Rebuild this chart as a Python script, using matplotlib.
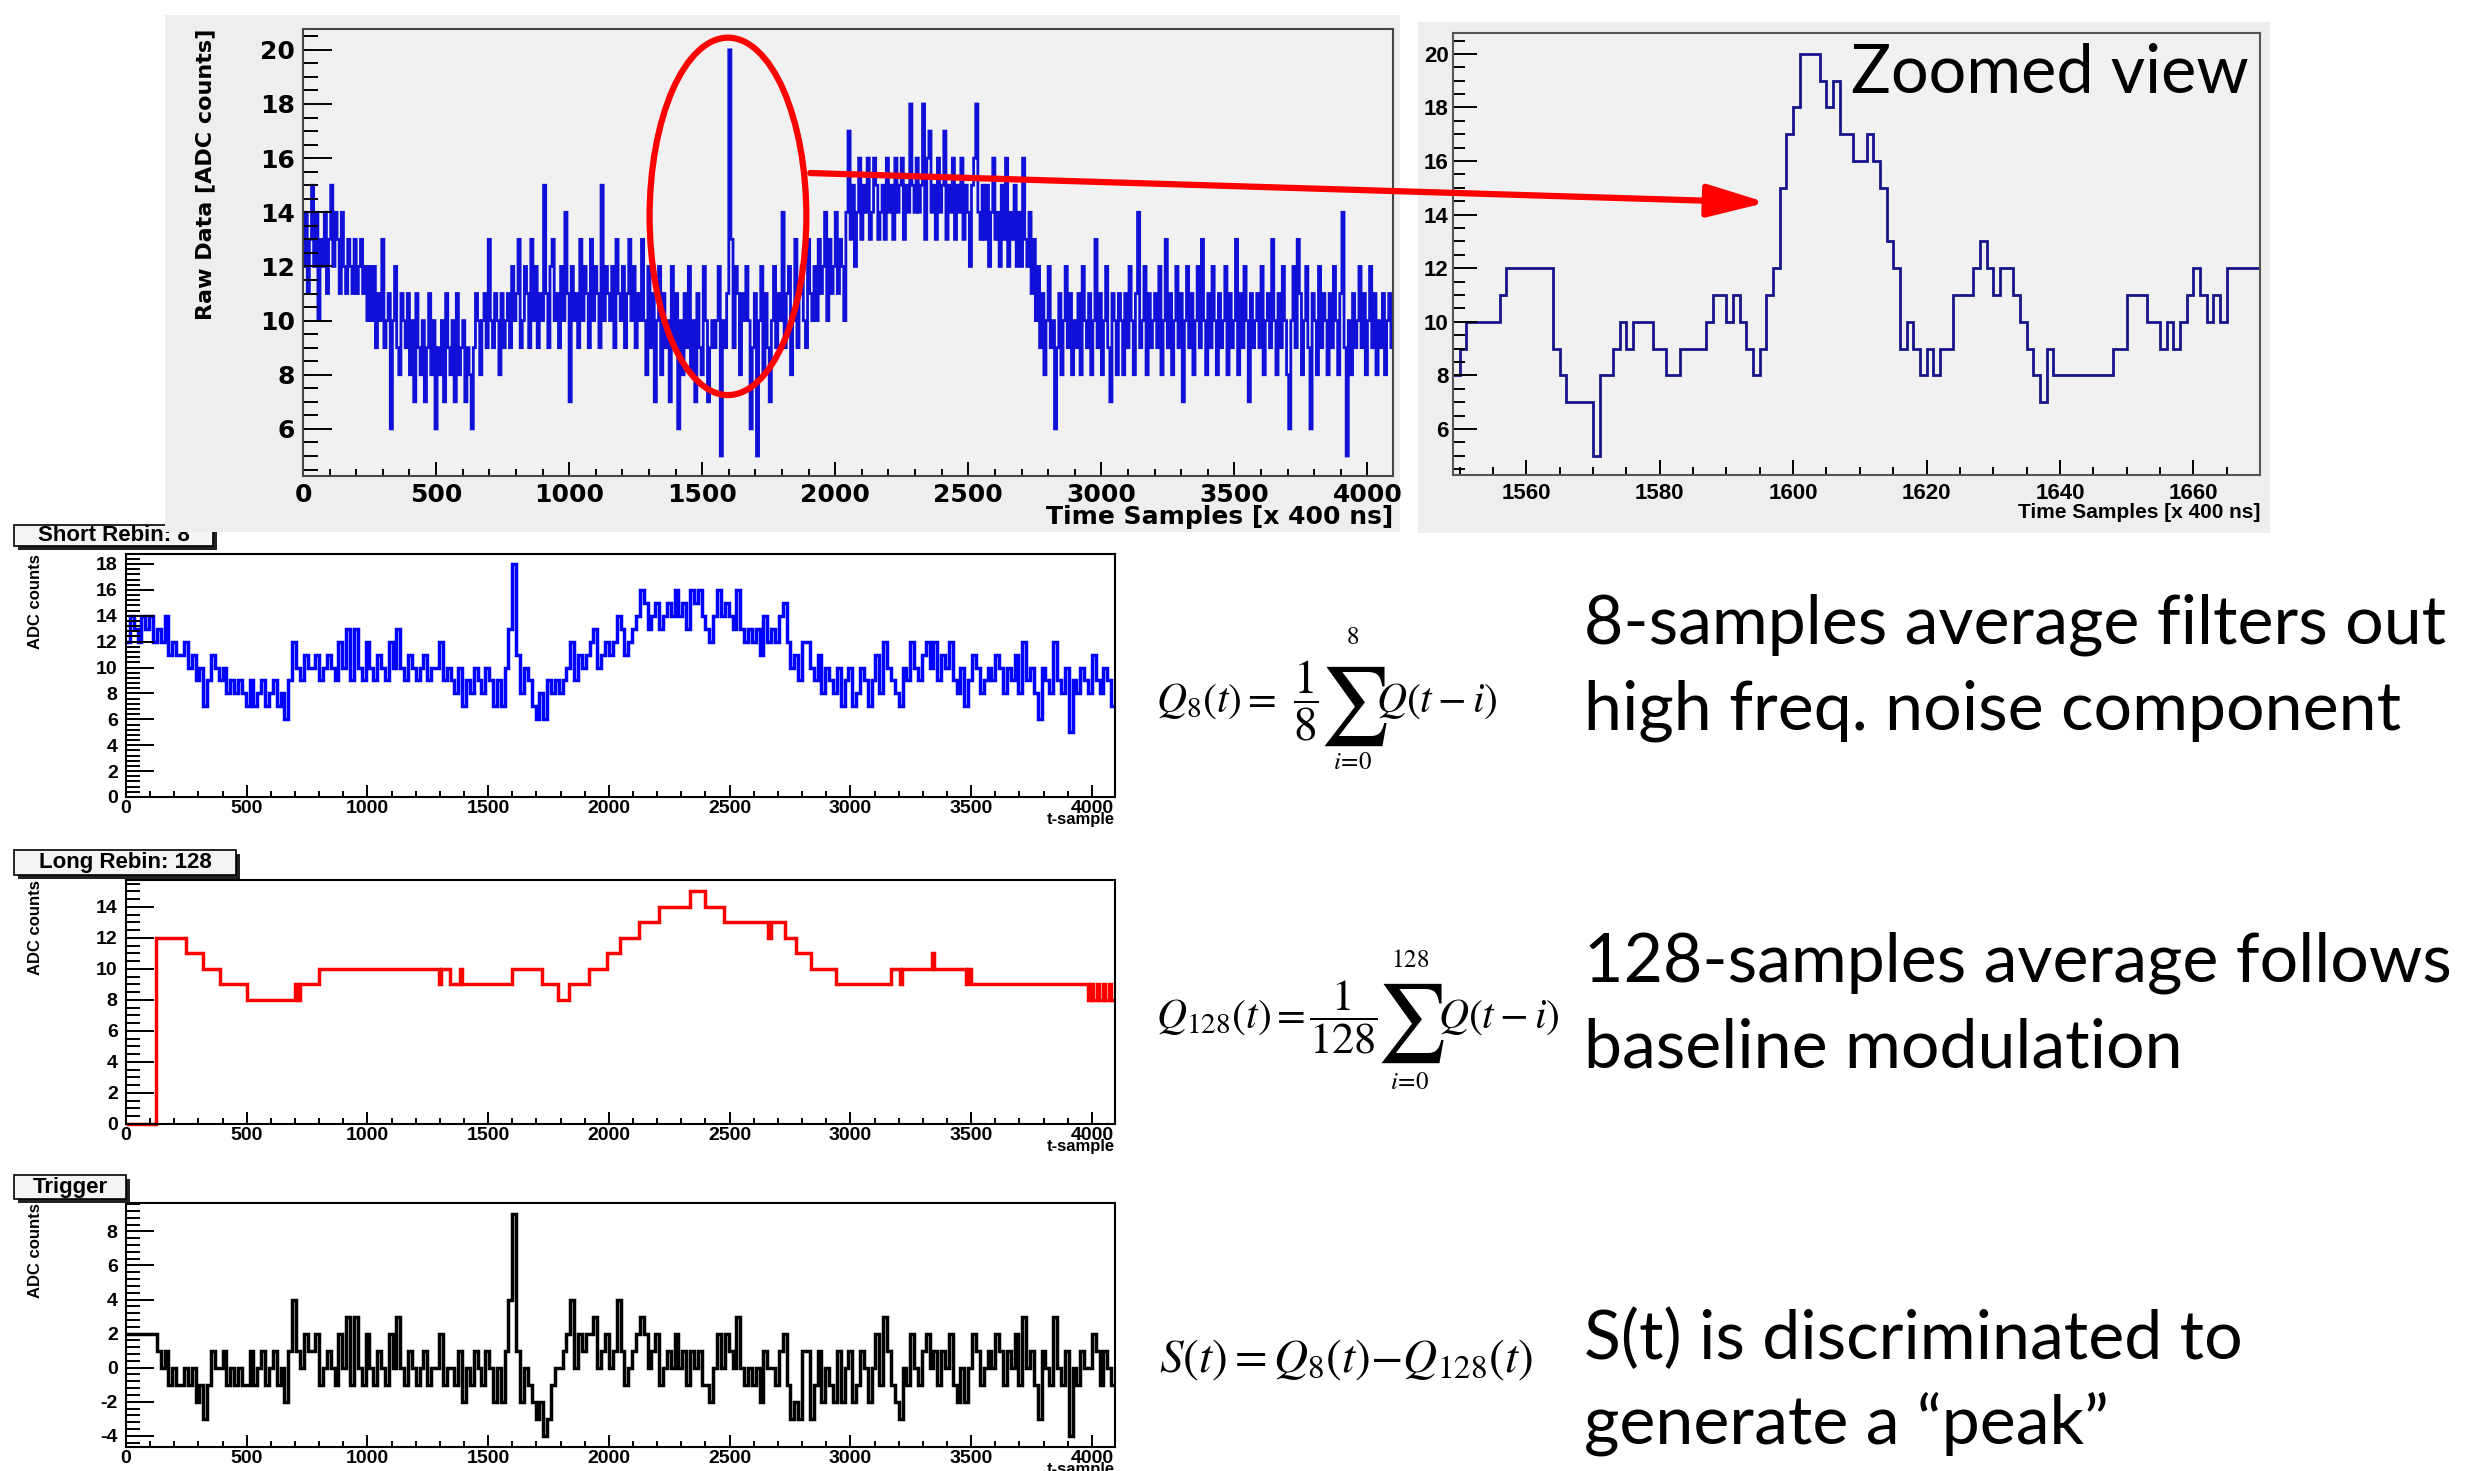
import numpy as np
import matplotlib.pyplot as plt
from matplotlib.patches import Ellipse, Rectangle, ConnectionPatch
from matplotlib.ticker import MultipleLocator

plt.rcParams['font.family'] = 'Liberation Sans'
plt.rcParams['mathtext.fontset'] = 'stix'
plt.rcParams['axes.unicode_minus'] = False

# raw ADC trace, one entry per 8 time samples (0..4095)
raw_counts = [
    12, 14, 11, 13, 15, 12, 14, 10, 13, 12, 14, 11, 13, 15, 12, 14,
    13, 11, 14, 12, 11, 13, 12, 11, 13, 11, 12, 13, 11, 12, 10, 12,
    10, 12, 9, 11, 10, 13, 9, 10, 11, 6, 10, 12, 9, 8, 11, 10,
    9, 11, 8, 10, 7, 11, 9, 8, 10, 7, 9, 11, 8, 10, 6, 9,
    8, 10, 7, 11, 9, 8, 10, 7, 11, 8, 9, 10, 7, 9, 8, 6,
    9, 11, 10, 8, 10, 11, 9, 13, 10, 9, 11, 10, 8, 11, 9, 10,
    11, 9, 12, 10, 11, 13, 9, 10, 12, 11, 9, 13, 10, 12, 9, 11,
    10, 15, 11, 9, 12, 13, 10, 11, 9, 12, 10, 14, 11, 7, 12, 10,
    11, 9, 13, 10, 12, 11, 9, 13, 10, 12, 11, 9, 15, 10, 12, 11,
    10, 12, 9, 13, 11, 10, 12, 9, 11, 13, 10, 12, 9, 11, 10, 13,
    10, 8, 12, 9, 11, 7, 10, 12, 8, 11, 9, 10, 7, 12, 9, 11,
    6, 10, 8, 11, 9, 12, 8, 10, 7, 11, 9, 8, 12, 10, 7, 9,
    10, 9, 10, 12, 5, 10, 9, 11, 20, 13, 9, 12, 11, 8, 11, 10,
    12, 10, 6, 9, 11, 5, 10, 12, 8, 11, 9, 7, 10, 12, 9, 11,
    10, 14, 9, 11, 12, 8, 10, 13, 9, 11, 12, 10, 9, 13, 11, 10,
    12, 10, 13, 11, 12, 14, 10, 13, 11, 12, 14, 11, 13, 12, 10, 14,
    17, 13, 15, 12, 14, 16, 13, 15, 14, 16, 13, 14, 16, 15, 13, 14,
    15, 13, 16, 14, 15, 13, 16, 14, 15, 16, 13, 15, 14, 18, 15, 14,
    16, 14, 15, 18, 13, 16, 17, 14, 15, 13, 16, 14, 15, 17, 13, 15,
    14, 16, 13, 15, 14, 16, 13, 15, 14, 12, 15, 16, 18, 14, 13, 15,
    13, 15, 12, 14, 16, 13, 14, 12, 15, 13, 16, 12, 14, 13, 15, 12,
    14, 12, 16, 13, 12, 14, 11, 13, 10, 12, 9, 11, 8, 10, 12, 9,
    10, 6, 9, 11, 8, 10, 12, 9, 11, 8, 10, 9, 11, 8, 12, 10,
    9, 11, 8, 10, 13, 9, 11, 8, 10, 12, 9, 7, 11, 10, 8, 11,
    10, 8, 11, 9, 12, 10, 8, 11, 14, 9, 10, 12, 8, 11, 9, 10,
    11, 9, 12, 8, 10, 13, 9, 11, 8, 10, 12, 9, 11, 7, 10, 12,
    9, 11, 8, 10, 12, 9, 13, 10, 8, 11, 9, 12, 10, 8, 11, 9,
    10, 12, 8, 11, 9, 10, 13, 8, 11, 9, 12, 10, 7, 11, 9, 10,
    11, 9, 12, 8, 10, 11, 9, 13, 10, 8, 11, 9, 12, 10, 8, 6,
    10, 12, 9, 13, 11, 8, 10, 12, 9, 6, 11, 10, 8, 12, 9, 11,
    10, 8, 11, 9, 12, 10, 8, 11, 14, 9, 5, 10, 8, 11, 9, 10,
    12, 9, 11, 8, 10, 12, 9, 11, 8, 10, 9, 11, 8, 10, 11, 9,
]

# zoomed raw trace, one entry per sample, starting at sample 1549
zoom_start = 1549
zoom_counts = [
    8, 9, 10, 10, 10, 10, 10, 11, 12, 12, 12, 12, 12, 12, 12, 9,
    8, 7, 7, 7, 7, 5, 8, 8, 9, 10, 9, 10, 10, 10, 9, 9,
    8, 8, 9, 9, 9, 9, 10, 11, 11, 10, 11, 10, 9, 8, 9, 11,
    12, 15, 17, 18, 20, 20, 20, 19, 18, 19, 17, 17, 16, 16, 17, 16,
    15, 13, 12, 9, 10, 9, 8, 9, 8, 9, 9, 11, 11, 11, 12, 13,
    12, 11, 12, 12, 11, 10, 9, 8, 7, 9, 8, 8, 8, 8, 8, 8,
    8, 8, 8, 9, 9, 11, 11, 11, 10, 10, 9, 10, 9, 10, 11, 12,
    11, 10, 11, 10, 12, 12, 12, 12, 12,
]

# 8-sample average, one entry per 16 samples
q8_counts = [
    12, 14, 13, 12, 14, 13, 14, 12, 13, 12, 14, 11, 12, 11, 11, 12,
    10, 11, 9, 10, 7, 9, 11, 10, 9, 10, 8, 9, 8, 9, 8, 7,
    9, 7, 8, 9, 7, 8, 9, 7, 8, 6, 9, 12, 10, 9, 11, 10,
    10, 11, 9, 10, 11, 10, 9, 12, 10, 13, 9, 13, 10, 9, 12, 10,
    9, 11, 10, 9, 12, 10, 13, 10, 9, 11, 10, 9, 10, 11, 9, 10,
    10, 12, 9, 10, 9, 8, 10, 7, 9, 8, 10, 9, 8, 10, 9, 7,
    9, 7, 10, 13, 18, 11, 8, 10, 9, 7, 6, 8, 6, 9, 8, 9,
    8, 9, 10, 12, 9, 11, 10, 11, 12, 13, 10, 11, 12, 11, 12, 14,
    13, 11, 12, 13, 14, 16, 15, 13, 14, 15, 13, 14, 15, 14, 16, 14,
    15, 13, 16, 15, 16, 14, 13, 12, 14, 16, 14, 15, 14, 13, 16, 13,
    12, 13, 12, 13, 11, 14, 12, 13, 12, 14, 15, 12, 10, 11, 9, 12,
    12, 10, 9, 11, 8, 10, 9, 8, 10, 7, 9, 10, 7, 8, 10, 9,
    7, 9, 11, 8, 12, 10, 9, 8, 7, 10, 9, 12, 10, 9, 11, 12,
    10, 12, 9, 11, 10, 12, 9, 8, 10, 7, 9, 11, 10, 8, 9, 10,
    9, 11, 10, 8, 10, 9, 11, 8, 12, 9, 10, 8, 6, 10, 9, 8,
    12, 9, 8, 10, 5, 9, 8, 10, 9, 8, 11, 9, 8, 10, 9, 7,
]

# 128-sample average: step edges (samples) and levels
q128_edges = [0, 125, 250, 320, 390, 500, 700, 712, 720, 800, 1296, 1304, 1340,
              1384, 1392, 1597, 1722, 1791, 1836, 1919, 1994, 2045, 2125, 2209,
              2337, 2397, 2478, 2660, 2672, 2731, 2776, 2836, 2940, 3170, 3205,
              3213, 3340, 3346, 3478, 3488, 3500, 3985, 3995, 4005, 4020, 4030,
              4045, 4055, 4070, 4080, 4096]
q128_counts = [0, 12, 11, 10, 9, 8, 9, 8, 9, 10, 9, 10, 9, 10, 9, 10, 9, 8, 9, 10,
               11, 12, 13, 14, 15, 14, 13, 12, 13, 12, 11, 10, 9, 10, 9, 10, 11,
               10, 9, 10, 9, 8, 9, 8, 9, 8, 9, 8, 9, 8]

# trigger S = Q8 - Q128, one entry per 16 samples
trigger_counts = [
    2, 2, 2, 2, 2, 2, 2, 2, 1, 0, 1, -1, 0, -1, -1, 0,
    -1, 0, -2, -1, -3, -1, 1, 0, 0, 1, -1, 0, -1, 0, -1, -1,
    1, -1, 0, 1, -1, 0, 1, -1, 0, -2, 1, 4, 1, 0, 2, 1,
    1, 2, -1, 0, 1, 0, -1, 2, 0, 3, -1, 3, 0, -1, 2, 0,
    -1, 1, 0, -1, 2, 0, 3, 0, -1, 1, 0, -1, 0, 1, -1, 0,
    0, 2, -1, 0, 0, -1, 1, -2, 0, -1, 1, 0, -1, 1, 0, -2,
    0, -2, 1, 4, 9, 1, -2, 0, -1, -2, -3, -2, -4, -3, -1, 0,
    0, 1, 2, 4, 0, 2, 1, 2, 2, 3, 0, 1, 2, 0, 1, 4,
    1, -1, 0, 1, 2, 3, 2, 0, 1, 2, -1, 0, 1, 0, 2, 0,
    1, -1, 1, 0, 1, -1, -1, -2, 0, 2, 0, 2, 1, 0, 3, 0,
    -1, 0, -1, 0, -2, 1, 0, 0, -1, 1, 2, -1, -3, -2, -3, 1,
    1, -3, -1, 1, -2, 0, -1, -2, 1, -2, 0, 1, -2, -1, 1, 0,
    -2, 0, 2, -1, 3, 1, -1, -2, -3, 0, -1, 2, 0, -1, 1, 2,
    0, 1, -1, 1, 0, 2, -1, -2, 0, -2, 0, 2, 1, -1, 0, 1,
    0, 2, 1, -1, 1, 0, 2, -1, 3, 0, 1, -1, -3, 1, 0, -1,
    3, 0, -1, 1, -4, 0, -1, 1, 0, 0, 2, 1, -1, 1, 0, -1,
]

W, H = 2472, 1471
fig = plt.figure(figsize=(W / 100, H / 100), dpi=100)


def frac(x0, y0, x1, y1):
    # pixel box (origin top-left) -> figure fraction rect
    return [x0 / W, 1 - y1 / H, (x1 - x0) / W, (y1 - y0) / H]


def fig_rect(x0, y0, x1, y1, **kw):
    r = frac(x0, y0, x1, y1)
    fig.add_artist(Rectangle((r[0], r[1]), r[2], r[3], transform=fig.transFigure, **kw))


def put(x, y, s, size, ha='left', va='center', **kw):
    fig.text(x / W, 1 - y / H, s, fontsize=size, ha=ha, va=va, **kw)


def title_box(x0, y0, x1, y1, text):
    fig_rect(x0 + 4, y0 + 4, x1 + 4, y1 + 4, fc='#222222', ec='none', zorder=0.5)
    fig_rect(x0, y0, x1, y1, fc='#f4f4f4', ec='black', lw=1.2, zorder=0.6)
    put((x0 + x1) / 2, (y0 + y1) / 2, text, 16, ha='center', fontweight='bold', zorder=0.7)


def root_style(ax, xmaj, xmin, ymaj, ymin, font, size, ylen, xlen, ypad, xpad, frame):
    ax.xaxis.set_major_locator(MultipleLocator(xmaj))
    ax.xaxis.set_minor_locator(MultipleLocator(xmin))
    ax.yaxis.set_major_locator(MultipleLocator(ymaj))
    ax.yaxis.set_minor_locator(MultipleLocator(ymin))
    ax.tick_params(which='both', direction='in', top=False, right=False, width=1.4,
                   labelsize=size, labelfontfamily=font)
    ax.tick_params(axis='y', which='major', length=ylen, pad=ypad)
    ax.tick_params(axis='y', which='minor', length=ylen / 2)
    ax.tick_params(axis='x', which='major', length=xlen, pad=xpad)
    ax.tick_params(axis='x', which='minor', length=xlen / 2)
    for lab in ax.get_xticklabels() + ax.get_yticklabels():
        lab.set_fontweight('bold')
    for sp in ax.spines.values():
        sp.set_color(frame)
        sp.set_linewidth(1.5)


# grey canvases of the two upper pads
fig_rect(165, 15, 1400, 532, fc='#eeeeee', ec='none', zorder=1)
fig_rect(1418, 22, 2270, 533, fc='#eeeeee', ec='none', zorder=1)

# --- raw data pad ---
ax_raw = fig.add_axes(frac(303, 29, 1393, 476))
ax_raw.set_zorder(2)
ax_raw.set_facecolor('#f1f1f1')
ax_raw.stairs(raw_counts, np.arange(0, 4097, 8), baseline=None, color='#1010d8', lw=2.0)
ax_raw.set_xlim(0, 4096)
ax_raw.set_ylim(4.26, 20.77)
root_style(ax_raw, 500, 100, 2, 0.5, 'DejaVu Sans', 18, 21, 10, 6, 5, '#444444')
ax_raw.set_ylabel('Raw Data [ADC counts]', loc='top', fontsize=16, family='DejaVu Sans',
                  fontweight='bold')
ax_raw.yaxis.set_label_coords(-0.080, 1.0)
ax_raw.set_xlabel('Time Samples [x 400 ns]', loc='right', fontsize=18, family='DejaVu Sans',
                  fontweight='bold')
ax_raw.xaxis.set_label_coords(1.0, -0.065)
ax_raw.add_patch(Ellipse((1597, 13.85), 589, 13.2, fill=False, ec='#ff0000', lw=4.5,
                         zorder=5, clip_on=False))

# --- zoomed pad ---
ax_zoom = fig.add_axes(frac(1453, 33, 2260, 475))
ax_zoom.set_zorder(2)
ax_zoom.set_facecolor('#f1f1f1')
ax_zoom.stairs(zoom_counts, np.arange(zoom_start, zoom_start + len(zoom_counts) + 1),
               baseline=None, color='#16168a', lw=2.0)
ax_zoom.set_xlim(1549, 1670)
ax_zoom.set_ylim(4.28, 20.78)
root_style(ax_zoom, 20, 5, 2, 0.5, 'Liberation Sans', 16, 17, 11, 3, 6, '#555555')
ax_zoom.set_xlabel('Time Samples [x 400 ns]', loc='right', fontsize=15, fontweight='bold')
ax_zoom.xaxis.set_label_coords(1.0, -0.063)
put(1851, 93, 'Zoomed view', 48, va='baseline', family='Lato', zorder=6)

arrow = ConnectionPatch(xyA=(1906, 15.45), coordsA=ax_raw.transData,
                        xyB=(1596, 14.45), coordsB=ax_zoom.transData,
                        arrowstyle='-|>,head_length=1.8,head_width=0.5',
                        mutation_scale=20, color='#ff0000', lw=4.5, zorder=10)
fig.add_artist(arrow)

# --- lower pads ---
title_box(14, 525, 213, 546, 'Short Rebin: 8')
title_box(14, 850, 236, 875, 'Long Rebin: 128')
title_box(14, 1175, 126, 1199, 'Trigger')

ax_q8 = fig.add_axes(frac(126, 554, 1115, 797))
ax_q8.stairs(q8_counts, np.arange(0, 4097, 16), baseline=None, color='#0000ff', lw=2.5)
ax_q8.set_ylim(0, 18.77)

ax_q128 = fig.add_axes(frac(126, 880, 1115, 1124))
ax_q128.stairs(q128_counts, q128_edges, baseline=None, color='#ff0000', lw=2.5, clip_on=False)
ax_q128.set_ylim(0, 15.73)

ax_trig = fig.add_axes(frac(126, 1203, 1115, 1447))
ax_trig.stairs(trigger_counts, np.arange(0, 4097, 16), baseline=None, color='black', lw=2.5)
ax_trig.set_ylim(-4.66, 9.67)

for ax, ymin in [(ax_q8, 0.4), (ax_q128, 0.5), (ax_trig, 0.4)]:
    ax.set_xlim(0, 4096)
    root_style(ax, 500, 100, 2, ymin, 'Liberation Sans', 14, 20, 9, 6, 2, 'black')
    ax.set_ylabel('ADC counts', loc='top', fontsize=12, fontweight='bold')
    ax.yaxis.set_label_coords(-0.084, 1.0)
    ax.set_xlabel('t-sample', loc='right', fontsize=12, fontweight='bold')
    ax.xaxis.set_label_coords(1.0, -0.062)

# --- formulas (pieces placed so the sums get display size) ---
put(1156, 701, r'$Q_8(t) =$', 30)
put(1306, 701, r'$\dfrac{1}{8}$', 34, ha='center')
put(1353, 706, r'$\sum$', 56, ha='center')
put(1353, 637, r'$8$', 18, ha='center')
put(1353, 762, r'$i\!=\!0$', 18, ha='center')
put(1376, 701, r'$Q(t-i)$', 30)

put(1156, 1017, r'$Q_{128}(t) =$', 30)
put(1343, 1017, r'$\dfrac{1}{128}$', 32, ha='center')
put(1410, 1023, r'$\sum$', 56, ha='center')
put(1410, 960, r'$128$', 18, ha='center')
put(1410, 1082, r'$i\!=\!0$', 18, ha='center')
put(1438, 1017, r'$Q(t-i)$', 30)

put(1159, 1360, r'$S(t){=}Q_8(t){-}Q_{128}(t)$', 34)

captions = [
    (643, '8-samples average filters out'),
    (730, 'high freq. noise component'),
    (981, '128-samples average follows'),
    (1067, 'baseline modulation'),
    (1359, 'S(t) is discriminated to'),
    (1443, 'generate a \u201cpeak\u201d'),
]
for y, s in captions:
    put(1584, y, s, 49, va='baseline', family='Lato')

fig.savefig('out.png', dpi=100, facecolor='white')
